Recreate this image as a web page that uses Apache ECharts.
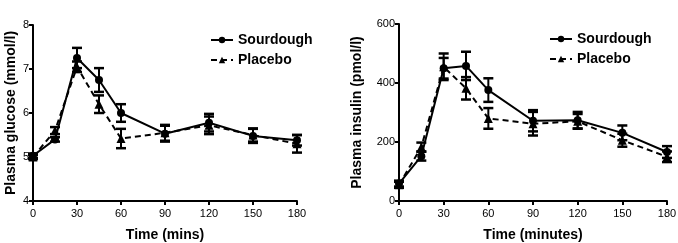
<!DOCTYPE html>
<html><head><meta charset="utf-8">
<script src="https://cdn.jsdelivr.net/npm/echarts@6/dist/echarts.min.js"></script>
<style>html,body{margin:0;padding:0;background:#fff}#c{width:678px;height:243px}</style>
</head><body><div id="c"></div>
<script>
var times = [0, 15, 30, 45, 60, 90, 120, 150, 180];
var xTicks = [0, 30, 60, 90, 120, 150, 180];
var glucoseSourdough = [5.03, 5.4, 7.25, 6.75, 6.0, 5.53, 5.78, 5.48, 5.38];
var glucoseSourdoughSE = [0.05, 0.05, 0.23, 0.27, 0.2, 0.18, 0.2, 0.16, 0.12];
var glucosePlacebo = [5.0, 5.6, 7.05, 6.2, 5.42, 5.55, 5.72, 5.5, 5.3];
var glucosePlaceboSE = [0.05, 0.08, 0.12, 0.2, 0.22, 0.18, 0.2, 0.15, 0.2];
var insulinSourdough = [59, 152, 450, 458, 376, 272, 274, 231, 166];
var insulinSourdoughSE = [10, 15, 35, 48, 40, 36, 28, 25, 20];
var insulinPlacebo = [55, 183, 455, 382, 280, 262, 270, 206, 150];
var insulinPlaceboSE = [10, 15, 45, 38, 35, 40, 25, 22, 18];

var FONT = 'Liberation Sans, Arial, sans-serif';
function pts(v){ return times.map(function(t,i){return [t, v[i]];}); }
function errs(v,se){ return times.map(function(t,i){return [t, v[i]-se[i], v[i]+se[i]];}); }
function errSeries(v, se, idx){
  return {type:'custom', xAxisIndex:idx, yAxisIndex:idx, silent:true, z:3,
    data: errs(v,se),
    renderItem: function(params, api){
      var lo = api.coord([api.value(0), api.value(1)]);
      var hi = api.coord([api.value(0), api.value(2)]);
      var w = 5;
      var s = {stroke:'#000', lineWidth:2};
      return {type:'group', children:[
        {type:'line', shape:{x1:lo[0],y1:lo[1],x2:hi[0],y2:hi[1]}, style:s},
        {type:'line', shape:{x1:lo[0]-w,y1:lo[1],x2:lo[0]+w,y2:lo[1]}, style:{stroke:'#000', lineWidth:2.5}},
        {type:'line', shape:{x1:hi[0]-w,y1:hi[1],x2:hi[0]+w,y2:hi[1]}, style:{stroke:'#000', lineWidth:2.5}}
      ]};
    }};
}
function lineSeries(name, v, idx, dashed){
  return {name:name, type:'line', xAxisIndex:idx, yAxisIndex:idx, data:pts(v),
    symbol: dashed ? 'triangle' : 'circle', symbolSize: dashed ? 9 : 8,
    lineStyle:{color:'#000', width:2, type: dashed ? [6,4] : 'solid'},
    itemStyle:{color:'#000'}, z:4};
}
function xAxis(idx, name){
  return {type:'value', gridIndex:idx, min:0, max:180, interval:30,
    name:name, nameLocation:'middle', nameGap:27,
    nameTextStyle:{fontFamily:FONT, fontSize:14, fontWeight:'bold', color:'#000'},
    axisLine:{lineStyle:{color:'#000', width:2}},
    axisTick:{show:true, length:4, lineStyle:{color:'#000', width:2}},
    axisLabel:{fontFamily:FONT, fontSize:11, color:'#000', margin:7,
      customValues: xTicks},
    splitLine:{show:false}};
}
function yAxis(idx, name, min, max, interval){
  return {type:'value', gridIndex:idx, min:min, max:max, interval:interval,
    name:name, nameLocation:'middle', nameGap: idx===0 ? 15 : 35,
    nameTextStyle:{fontFamily:FONT, fontSize:14, fontWeight:'bold', color:'#000'},
    axisLine:{show:true, lineStyle:{color:'#000', width:2}},
    axisTick:{show:true, length:4, lineStyle:{color:'#000', width:2}},
    axisLabel:{fontFamily:FONT, fontSize:11, color:'#000', margin:4},
    splitLine:{show:false}};
}
var chart = echarts.init(document.getElementById('c'), null, {renderer:'canvas'});
chart.setOption({
  animation:false,
  grid:[{left:33, right:381, top:25, bottom:42, outerBoundsMode:'none', containLabel:false},
        {left:399, right:11, top:24, bottom:42, outerBoundsMode:'none', containLabel:false}],
  xAxis:[xAxis(0,'Time (mins)'), xAxis(1,'Time (minutes)')],
  yAxis:[yAxis(0,'Plasma glucose (mmol/l)',4,8,1), yAxis(1,'Plasma insulin (pmol/l)',0,600,200)],
  legend:[
    {left:205, top:28, orient:'vertical', itemWidth:22, itemHeight:8, itemGap:6,
     data:['Sourdough','Placebo'],
     textStyle:{fontFamily:FONT, fontSize:14, fontWeight:'bold', color:'#000'}},
    {left:544, top:27, orient:'vertical', itemWidth:22, itemHeight:8, itemGap:6,
     data:['Sourdough','Placebo'],
     textStyle:{fontFamily:FONT, fontSize:14, fontWeight:'bold', color:'#000'}}
  ],
  series:[
    errSeries(glucoseSourdough, glucoseSourdoughSE, 0),
    errSeries(glucosePlacebo, glucosePlaceboSE, 0),
    lineSeries('Sourdough', glucoseSourdough, 0, false),
    lineSeries('Placebo', glucosePlacebo, 0, true),
    errSeries(insulinSourdough, insulinSourdoughSE, 1),
    errSeries(insulinPlacebo, insulinPlaceboSE, 1),
    lineSeries('Sourdough', insulinSourdough, 1, false),
    lineSeries('Placebo', insulinPlacebo, 1, true)
  ]
});
</script></body></html>
